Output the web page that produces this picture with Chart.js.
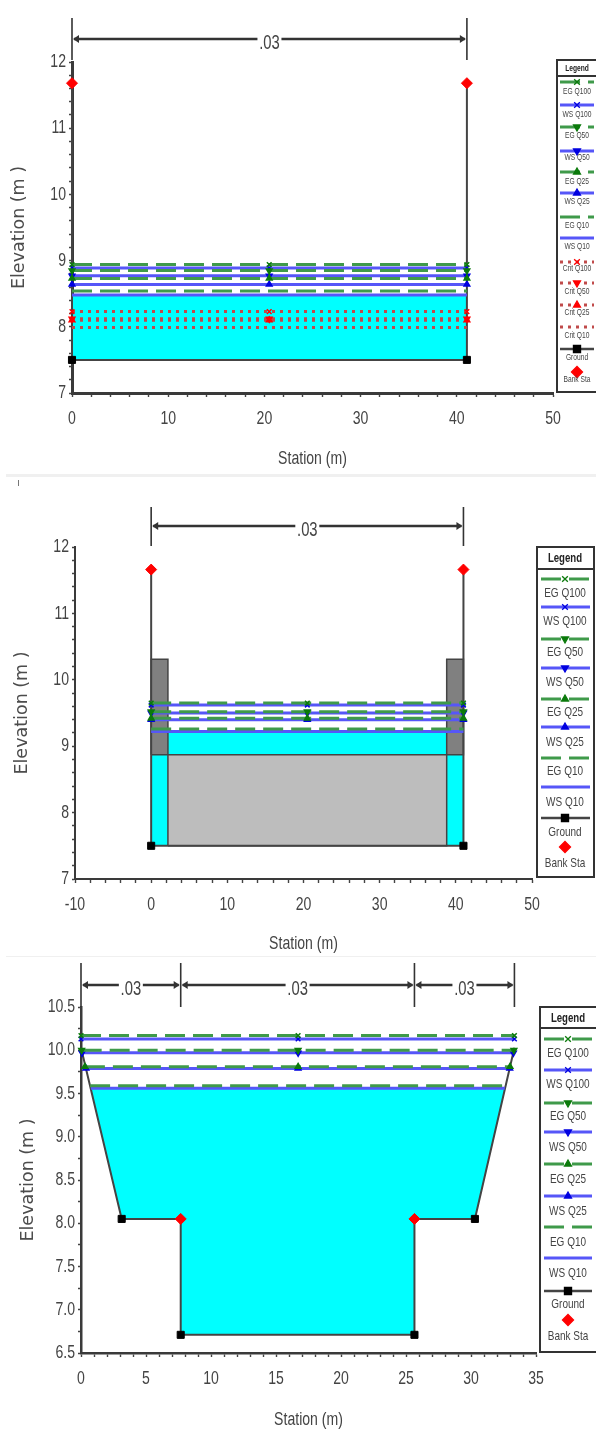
<!DOCTYPE html>
<html lang="en">
<head>
<meta charset="UTF-8">
<title>Cross sections</title>
<script src="https://cdn.jsdelivr.net/npm/chart.js"></script>
<style>
  html, body { margin: 0; padding: 0; background: #fff; }
  body { position: relative; width: 596px; height: 1430px; overflow: hidden; }
  .plot { position: absolute; left: 0; width: 596px; }
  .plot canvas { filter: blur(0.7px); }
  .sep { position: absolute; left: 6px; right: 0; background: #f0f0f0; }
  .nick { position: absolute; left: 18px; top: 480px; width: 1px; height: 6px; background: #777; }
</style>
</head>
<body>
<div class="sep" style="top:474px;height:3px"></div>
<div class="sep" style="top:956px;height:1px"></div>
<div class="nick"></div>
<div class="plot" style="top:0;height:475px"><canvas id="section1"></canvas></div>
<div class="plot" style="top:480px;height:475px"><canvas id="section2"></canvas></div>
<div class="plot" style="top:950px;height:484px"><canvas id="section3"></canvas></div>

<script>
// ---- data ----
const profiles = ['Q100', 'Q50', 'Q25', 'Q10'];

// section 1
const stations1 = [0, 20.5, 41.05];
const eg1 = [8.94, 8.85, 8.73, 8.54];
const ws1 = [8.89, 8.77, 8.64, 8.48];
const crit1 = [8.23, 8.12, 8.10, 7.99];
const groundX1 = [0, 0, 41.05, 41.05];
const groundY1 = [11.68, 7.5, 7.5, 11.68];
const groundPtsX1 = [0, 41.05];
const groundPtsY1 = [7.5, 7.5];
const bankX1 = [0, 41.05];
const bankY1 = [11.68, 11.68];
const waterX1 = [0, 41.05, 41.05, 0];
const waterY1 = [7.5, 7.5, 8.48, 8.48];
const nBreaks1 = [0, 41.05];
const nValues1 = ['.03'];

// section 2 (with piers)
const stations2 = [0, 20.5, 41];
const eg2 = [9.65, 9.52, 9.42, 9.26];
const ws2 = [9.62, 9.50, 9.40, 9.22];
const groundX2 = [0, 0, 41, 41];
const groundY2 = [11.66, 7.5, 7.5, 11.66];
const groundPtsX2 = [0, 41];
const groundPtsY2 = [7.5, 7.5];
const bankX2 = [0, 41];
const bankY2 = [11.66, 11.66];
const waterX2 = [0, 41, 41, 0];
const waterY2 = [7.5, 7.5, 9.22, 9.22];
const deckX2 = [2.2, 38.8, 38.8, 2.2, 2.2];
const deckY2 = [7.5, 7.5, 8.87, 8.87, 7.5];
const pierLeftX2 = [0, 2.2, 2.2, 0, 0];
const pierRightX2 = [38.8, 41, 41, 38.8, 38.8];
const pierY2 = [8.87, 8.87, 10.31, 10.31, 8.87];
const nBreaks2 = [0, 41];
const nValues2 = ['.03'];

// section 3 (compound channel), left and right ends of each water line
const eg3 = [10.17, 10.0, 9.81, 9.59];
const ws3 = [10.13, 9.97, 9.79, 9.56];
const egLeft3 = [0, 0.05, 0.3, 0.7];
const wsLeft3 = [0, 0.08, 0.38, 0.76];
const egRight3 = [33.34, 33.3, 33.0, 32.66];
const wsRight3 = [33.34, 33.26, 32.98, 32.6];
const mid3 = 16.7;
const groundX3 = [0, 3.13, 7.67, 7.67, 25.65, 25.65, 30.3, 33.34];
const groundY3 = [10.03, 8.05, 8.05, 6.71, 6.71, 8.05, 8.05, 10.03];
const groundPtsX3 = [3.13, 7.67, 25.65, 30.3];
const groundPtsY3 = [8.05, 6.71, 6.71, 8.05];
const bankX3 = [7.67, 25.65];
const bankY3 = [8.05, 8.05];
const waterX3 = [0.76, 3.13, 7.67, 7.67, 25.65, 25.65, 30.3, 32.6];
const waterY3 = [9.56, 8.05, 8.05, 6.71, 6.71, 8.05, 8.05, 9.56];
const nBreaks3 = [0, 7.67, 25.65, 33.34];
const nValues3 = ['.03', '.03', '.03'];

const legend1 = ['EG Q100', 'WS Q100', 'EG Q50', 'WS Q50', 'EG Q25', 'WS Q25', 'EG Q10', 'WS Q10',
  'Crit Q100', 'Crit Q50', 'Crit Q25', 'Crit Q10', 'Ground', 'Bank Sta'];
const legend2 = legend1.filter(l => l.indexOf('Crit') !== 0);

// ---- styles ----
const narrow = '"Liberation Sans", sans-serif';
const textColor = '#444';
const CYAN = '#00ffff';
const markers = {
  Q100: { pointStyle: 'crossRot', rotation: 0 },
  Q50: { pointStyle: 'triangle', rotation: 180 },
  Q25: { pointStyle: 'triangle', rotation: 0 },
  Q10: { pointStyle: false, rotation: 0 }
};
const kinds = {
  EG: { line: '#3f9a4a', mark: '#0b7a0b', dash: [20, 8], width: 3 },
  WS: { line: '#5656f8', mark: '#0000e0', dash: [], width: 3 },
  Crit: { line: '#c04a4a', mark: '#ff0000', dash: [3, 5], width: 3 }
};

// no condensed face is installed, so squeeze the Liberation text sideways
const plainFillText = CanvasRenderingContext2D.prototype.fillText;
CanvasRenderingContext2D.prototype.fillText = function (text, x, y) {
  if (this.font.indexOf('Liberation') < 0) return plainFillText.call(this, text, x, y);
  this.save();
  this.translate(x, y);
  this.scale(0.74, 1);
  plainFillText.call(this, text, 0, 0);
  this.restore();
};

function styleFor(label) {
  if (label === 'Ground') return { line: '#444', mark: '#000', dash: [], width: 2.4, pointStyle: 'rect', rotation: 0, radius: 5 };
  if (label === 'Bank Sta') return { line: null, mark: '#ff0000', dash: [], width: 0, pointStyle: 'rectRot', rotation: 0, radius: 5.5 };
  const parts = label.split(' ');
  const m = markers[parts[1]];
  return Object.assign({}, kinds[parts[0]], { pointStyle: m.pointStyle, rotation: m.rotation, radius: 4 });
}

function toPoints(xs, ys) {
  return xs.map((x, i) => ({ x: x, y: ys[i] }));
}

function levelSet(label, xs, ys) {
  const s = styleFor(label);
  return {
    label: label,
    data: toPoints(xs, ys),
    showLine: true,
    borderColor: s.line,
    borderWidth: s.width,
    borderDash: s.dash,
    pointStyle: s.pointStyle,
    pointRotation: s.rotation,
    pointRadius: s.pointStyle ? s.radius - 0.7 : 0,
    pointBackgroundColor: s.mark,
    pointBorderColor: s.mark,
    pointBorderWidth: 1.5,
    clip: false,
    order: label.indexOf('EG') === 0 ? 10 : 11
  };
}

function shape(xs, ys, fill, edge, order) {
  return {
    data: toPoints(xs, ys),
    showLine: true,
    fill: 'shape',
    backgroundColor: fill,
    borderColor: edge,
    borderWidth: edge === fill ? 0 : 1.5,
    pointRadius: 0,
    clip: false,
    order: order
  };
}

function baseSets(gx, gy, px, py, bx, by) {
  return [
    { label: 'Ground', data: toPoints(gx, gy), showLine: true, borderColor: '#444', borderWidth: 2, pointRadius: 0, clip: false, order: 30 },
    {
      data: toPoints(px, py), showLine: false, pointStyle: 'rect', pointRadius: 5,
      pointBackgroundColor: '#000', pointBorderColor: '#000', clip: false, order: 2
    },
    {
      label: 'Bank Sta', data: toPoints(bx, by), showLine: false, pointStyle: 'rectRot', pointRadius: 5.5,
      pointBackgroundColor: '#ff0000', pointBorderColor: '#ff0000', clip: false, order: 1
    }
  ];
}

// draws the Manning n brackets above the plot
const nBrackets = {
  id: 'nBrackets',
  afterDraw(chart, args, o) {
    const ctx = chart.ctx, xs = chart.scales.x;
    ctx.save();
    ctx.strokeStyle = '#333';
    ctx.fillStyle = '#333';
    ctx.lineWidth = 1.6;
    o.breaks.forEach(b => {
      const p = xs.getPixelForValue(b);
      ctx.beginPath();
      ctx.moveTo(p, o.top);
      ctx.lineTo(p, o.bottom);
      ctx.stroke();
    });
    ctx.font = '20px ' + narrow;
    ctx.textAlign = 'center';
    ctx.textBaseline = 'middle';
    o.values.forEach((v, i) => {
      const a = xs.getPixelForValue(o.breaks[i]);
      const b = xs.getPixelForValue(o.breaks[i + 1]);
      const c = (a + b) / 2;
      ctx.lineWidth = 2.4;
      ctx.beginPath();
      ctx.moveTo(a + 2, o.y);
      ctx.lineTo(c - 12, o.y);
      ctx.moveTo(c + 12, o.y);
      ctx.lineTo(b - 2, o.y);
      ctx.stroke();
      [[a + 1, 6], [b - 1, -6]].forEach(h => {
        ctx.beginPath();
        ctx.moveTo(h[0], o.y);
        ctx.lineTo(h[0] + h[1], o.y - 4);
        ctx.lineTo(h[0] + h[1], o.y + 4);
        ctx.closePath();
        ctx.fill();
      });
      ctx.fillStyle = textColor;
      ctx.fillText(v, c, o.y + 4);
      ctx.fillStyle = '#333';
    });
    ctx.restore();
  }
};

// HEC-RAS style legend: key line with the label underneath
const rasLegend = {
  id: 'rasLegend',
  afterDraw(chart, args, o) {
    const ctx = chart.ctx;
    ctx.save();
    ctx.fillStyle = '#fff';
    ctx.fillRect(o.left, o.top, o.right - o.left, o.bottom - o.top);
    ctx.strokeStyle = '#333';
    ctx.lineWidth = 2;
    ctx.strokeRect(o.left, o.top, o.right - o.left, o.bottom - o.top);
    ctx.beginPath();
    ctx.moveTo(o.left, o.divider);
    ctx.lineTo(o.right, o.divider);
    ctx.stroke();

    const mid = o.center;
    ctx.textAlign = 'center';
    ctx.textBaseline = 'middle';
    ctx.fillStyle = '#222';
    ctx.font = 'bold ' + o.headSize + 'px ' + narrow;
    ctx.fillText('Legend', mid, (o.top + o.divider) / 2 + 0.5);

    o.labels.forEach((label, i) => {
      const s = styleFor(label);
      const y = o.keyY[i];
      if (s.line) {
        ctx.strokeStyle = s.line;
        ctx.lineWidth = s.width;
        ctx.setLineDash(s.dash);
        ctx.beginPath();
        ctx.moveTo(o.keyLeft, y);
        ctx.lineTo(o.keyRight, y);
        ctx.stroke();
        ctx.setLineDash([]);
      }
      if (s.pointStyle) {
        ctx.fillStyle = s.mark;
        ctx.strokeStyle = s.mark;
        ctx.lineWidth = 1.3;
        Chart.helpers.drawPoint(ctx, { pointStyle: s.pointStyle, rotation: s.rotation, radius: s.radius, borderWidth: 1.3 }, mid, y);
      }
      ctx.fillStyle = textColor;
      ctx.font = o.fontSize + 'px ' + narrow;
      ctx.fillText(label, mid, o.labelY[i]);
    });
    ctx.restore();
  }
};

function drawSection(id, cfg) {
  const canvas = document.getElementById(id);
  canvas.width = 596;
  canvas.height = cfg.height;
  canvas.style.width = '596px';
  canvas.style.height = cfg.height + 'px';
  return new Chart(canvas, {
    type: 'scatter',
    data: { datasets: cfg.datasets },
    plugins: [nBrackets, rasLegend],
    options: {
      responsive: false,
      animation: false,
      events: [],
      layout: { padding: { left: cfg.padLeft, top: cfg.plotTop, right: 596 - cfg.plotRight, bottom: cfg.padBottom } },
      plugins: {
        legend: { display: false },
        tooltip: { enabled: false },
        nBrackets: cfg.bracket,
        rasLegend: cfg.legend
      },
      scales: {
        x: {
          type: 'linear',
          min: cfg.xMin,
          max: cfg.xMax,
          afterFit(scale) { scale.height = cfg.height - cfg.padBottom - cfg.plotBottom; },
          border: { color: '#3a3a3a', width: cfg.axisWidth },
          grid: { drawOnChartArea: false, color: '#444', tickLength: 4, tickWidth: 1.4 },
          ticks: {
            stepSize: cfg.xMinor,
            autoSkip: false,
            maxRotation: 0,
            includeBounds: false,
            padding: 10,
            color: textColor,
            font: { family: narrow, size: 19 },
            callback: v => Math.abs(v / cfg.xMajor - Math.round(v / cfg.xMajor)) < 1e-6 ? String(v) : ''
          },
          title: { display: true, text: 'Station (m)', color: textColor, padding: 0, font: { family: narrow, size: 19 } }
        },
        y: {
          type: 'linear',
          min: cfg.yMin,
          max: cfg.yMax,
          afterFit(scale) { scale.width = cfg.plotLeft - cfg.padLeft; },
          border: { color: '#3a3a3a', width: cfg.axisWidth },
          grid: { drawOnChartArea: false, color: '#444', tickLength: 3, tickWidth: 1.4 },
          ticks: {
            stepSize: cfg.yMinor,
            autoSkip: false,
            includeBounds: false,
            padding: 3,
            color: textColor,
            font: { family: narrow, size: 19 },
            callback: v => Math.abs(v / cfg.yMajor - Math.round(v / cfg.yMajor)) < 1e-6 ? v.toFixed(cfg.yDecimals) : ''
          },
          title: { display: true, text: 'Elevation (m )', color: '#4c4c4c', padding: 0, font: { family: '"DejaVu Sans", sans-serif', size: 17.5 } }
        }
      }
    }
  });
}

// ---- section 1 ----
const sets1 = baseSets(groundX1, groundY1, groundPtsX1, groundPtsY1, bankX1, bankY1);
sets1.push(shape(waterX1, waterY1, CYAN, CYAN, 40));
profiles.forEach((p, i) => {
  sets1.push(levelSet('WS ' + p, stations1, stations1.map(() => ws1[i])));
  sets1.push(levelSet('EG ' + p, stations1, stations1.map(() => eg1[i])));
  sets1.push(levelSet('Crit ' + p, stations1, stations1.map(() => crit1[i])));
});
drawSection('section1', {
  height: 475, padLeft: 9, padBottom: 5,
  plotLeft: 72, plotRight: 553, plotTop: 62, plotBottom: 393, axisWidth: 3,
  xMin: 0, xMax: 50, xMajor: 10, xMinor: 2,
  yMin: 7, yMax: 12, yMajor: 1, yMinor: 0.2, yDecimals: 0,
  datasets: sets1,
  bracket: { breaks: nBreaks1, values: nValues1, y: 39, top: 18, bottom: 60 },
  legend: {
    labels: legend1, left: 557, right: 600, top: 60, bottom: 392, divider: 76, center: 577, keyLeft: 560, keyRight: 594, fontSize: 9, headSize: 9,
    keyY: [82, 105, 127, 151, 172, 193, 217, 238, 262, 283, 305, 327, 349, 372],
    labelY: [92, 115, 136, 158, 182, 202, 226, 247, 269, 292, 313, 336, 358, 380]
  }
});

// ---- section 2 ----
const sets2 = baseSets(groundX2, groundY2, groundPtsX2, groundPtsY2, bankX2, bankY2);
sets2.push(shape(waterX2, waterY2, CYAN, CYAN, 60));
sets2.push(shape(deckX2, deckY2, '#bdbdbd', '#444', 50));
sets2.push(shape(pierLeftX2, pierY2, '#808080', '#444', 50));
sets2.push(shape(pierRightX2, pierY2, '#808080', '#444', 50));
profiles.forEach((p, i) => {
  sets2.push(levelSet('WS ' + p, stations2, stations2.map(() => ws2[i])));
  sets2.push(levelSet('EG ' + p, stations2, stations2.map(() => eg2[i])));
});
drawSection('section2', {
  height: 475, padLeft: 12, padBottom: 0,
  plotLeft: 75, plotRight: 532, plotTop: 67, plotBottom: 399, axisWidth: 2,
  xMin: -10, xMax: 50, xMajor: 10, xMinor: 2,
  yMin: 7, yMax: 12, yMajor: 1, yMinor: 0.2, yDecimals: 0,
  datasets: sets2,
  bracket: { breaks: nBreaks2, values: nValues2, y: 46, top: 27, bottom: 66 },
  legend: {
    labels: legend2, left: 537, right: 594, top: 67, bottom: 397, divider: 89, center: 565, keyLeft: 541, keyRight: 590, fontSize: 13.5, headSize: 13,
    keyY: [99, 127, 159, 188, 219, 247, 278, 307, 338, 367],
    labelY: [113, 141, 172, 202, 232, 262, 291, 322, 352, 383]
  }
});

// ---- section 3 ----
const sets3 = baseSets(groundX3, groundY3, groundPtsX3, groundPtsY3, bankX3, bankY3);
sets3.push(shape(waterX3, waterY3, CYAN, CYAN, 40));
profiles.forEach((p, i) => {
  sets3.push(levelSet('WS ' + p, [wsLeft3[i], mid3, wsRight3[i]], [ws3[i], ws3[i], ws3[i]]));
  sets3.push(levelSet('EG ' + p, [egLeft3[i], mid3, egRight3[i]], [eg3[i], eg3[i], eg3[i]]));
});
drawSection('section3', {
  height: 484, padLeft: 18, padBottom: 3,
  plotLeft: 81, plotRight: 536, plotTop: 57, plotBottom: 403, axisWidth: 2.5,
  xMin: 0, xMax: 35, xMajor: 5, xMinor: 1,
  yMin: 6.5, yMax: 10.5, yMajor: 0.5, yMinor: 0.25, yDecimals: 1,
  datasets: sets3,
  bracket: { breaks: nBreaks3, values: nValues3, y: 35, top: 13, bottom: 57 },
  legend: {
    labels: legend2, left: 540, right: 600, top: 57, bottom: 402, divider: 78, center: 568, keyLeft: 544, keyRight: 592, fontSize: 13.5, headSize: 13,
    keyY: [89, 120, 153, 182, 214, 246, 277, 308, 341, 370],
    labelY: [103, 134, 166, 197, 229, 261, 292, 323, 354, 386]
  }
});
</script>
</body>
</html>
